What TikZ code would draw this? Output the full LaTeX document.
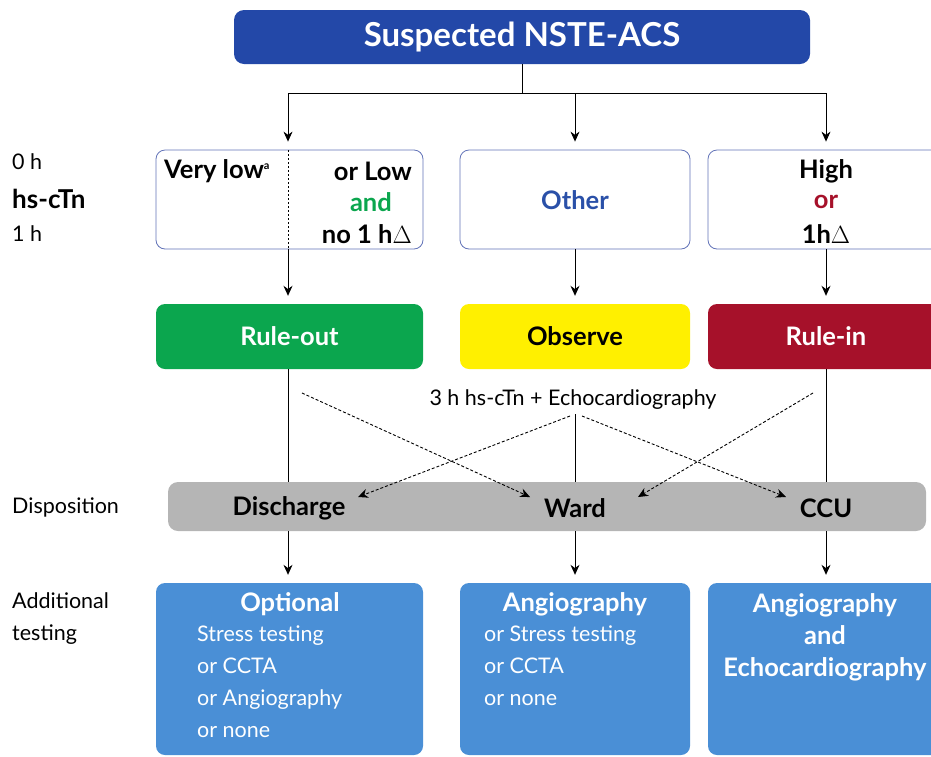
\documentclass[tikz,border=0pt]{standalone}
\usepackage{fontspec}
\setmainfont{Lato}
\usetikzlibrary{arrows.meta}
\definecolor{titleblue}{HTML}{2348A8}
\definecolor{frameblue}{HTML}{6273B8}
\definecolor{otherblue}{HTML}{2A50A8}
\definecolor{rgreen}{HTML}{0BA64E}
\definecolor{ryellow}{HTML}{FFF000}
\definecolor{rred}{HTML}{A6112A}
\definecolor{dgray}{HTML}{B5B5B5}
\definecolor{tblue}{HTML}{4A8FD6}
\begin{document}
\begin{tikzpicture}[x=1pt,y=-1pt,
  titlebox/.style={rectangle,rounded corners=10pt,fill=titleblue,text=white,font=\fontsize{33}{36}\selectfont\bfseries},
  riskbox/.style={rectangle,rounded corners=9pt,draw=frameblue,line width=0.8pt,fill=white,minimum height=99pt},
  colbox/.style={rectangle,rounded corners=9pt,minimum height=65pt,minimum width=267pt,font=\fontsize{25.5}{28}\selectfont\bfseries},
  testbox/.style={rectangle,rounded corners=9pt,fill=tblue,minimum height=172pt},
  btxt/.style={font=\fontsize{25.5}{32}\selectfont\bfseries,inner sep=0pt},
  ntxt/.style={font=\fontsize{21.5}{32}\selectfont,inner sep=0pt},
  ltxt/.style={font=\fontsize{21.5}{32}\selectfont,inner sep=0pt,anchor=west},
  arr/.style={-{Stealth[length=10pt,width=9pt]},line width=0.9pt},
  plain/.style={line width=0.9pt},
  dotarr/.style={-{Stealth[length=10pt,width=9pt]},line width=0.9pt,dash pattern=on 3pt off 2pt}
]
\useasboundingbox (0,0) rectangle (931,756);
\clip (0,0) rectangle (931,756);

% title
\node[titlebox,minimum width=576pt,minimum height=54pt] (title) at (522,37) {Suspected NSTE-ACS};

% risk boxes
\node[riskbox,minimum width=267pt] (risk1) at (289.5,199.5) {};
\node[riskbox,minimum width=230pt] (risk2) at (575,199.5) {};
\node[riskbox,minimum width=236pt] (risk3) at (826,199.5) {};
\coordinate (dtop) at (288,150);
\coordinate (dbot) at (288,249);
\draw[line width=0.9pt,dash pattern=on 2pt off 2pt] (dtop) -- (dbot);

\node[btxt,anchor=west] (vlow) at (164,171) {Very low\textsuperscript{\fontsize{11}{11}\selectfont a}};
\node[btxt,anchor=east] (orlow) at (412,171) {or Low};
\node[btxt,anchor=east,text=rgreen] (and1) at (392,202) {and};
\node[btxt,anchor=east] (no1h) at (412,234) {no 1 h$\Delta$};
\node[btxt,text=otherblue] (other) at (575,200) {Other};
\node[btxt] (high) at (826,171) {High};
\node[btxt,text=rred] (or3) at (826,202) {or};
\node[btxt] (oneh) at (826,234) {1h$\Delta$};

% colored boxes
\node[colbox,fill=rgreen,text=white] (ruleout) at (289.5,336.5) {Rule-out};
\node[colbox,fill=ryellow,text=black,minimum width=230pt] (observe) at (575,336.5) {Observe};
\node[colbox,fill=rred,text=white,minimum width=236pt] (rulein) at (826,336.5) {Rule-in};

% disposition bar
\node[rectangle,rounded corners=10pt,fill=dgray,minimum width=758pt,minimum height=49pt] (disp) at (547,506.5) {};
\node[btxt] (discharge) at (289,508) {Discharge};
\node[btxt] (ward) at (575,508) {Ward};
\node[btxt] (ccu) at (826,508) {CCU};

% test boxes
\node[testbox,minimum width=267pt] (test1) at (289.5,669) {};
\node[testbox,minimum width=230pt] (test2) at (575,669) {};
\node[testbox,minimum width=236pt] (test3) at (826,669) {};

\node[btxt,text=white] (opt) at (290,604) {Optional};
\node[ntxt,text=white,anchor=north west,align=left] (opttxt) at (197,626) {Stress testing\\or CCTA\\or Angiography\\or none};
\node[btxt,text=white] (ang2) at (575,604) {Angiography};
\node[ntxt,text=white,anchor=north west,align=left] (angtxt) at (484,626) {or Stress testing\\or CCTA\\or none};
\node[btxt,text=white,align=center,anchor=north] (ang3) at (825,593) {Angiography\\and\\Echocardiography};

% echo text
\node[ntxt] (echo) at (573,400) {3 h hs-cTn + Echocardiography};

% left labels
\node[ltxt] (l0) at (12,162) {0 h};
\node[ltxt,font=\fontsize{26}{28}\selectfont\bfseries] (lhs) at (12,199) {hs-cTn};
\node[ltxt] (l1) at (12,234) {1 h};
\node[ltxt] (ldisp) at (12,507) {Disposition};
\node[ltxt,anchor=north west,align=left] (ladd) at (12,592) {Additional\\testing};

% connectors from title
\coordinate (j0) at (522,93);
\coordinate (j1) at (288,93);
\coordinate (j2) at (575,93);
\coordinate (j3) at (826,93);
\draw[plain] (title.south -| j0) -- (j0);
\draw[plain] (j1) -- (j3);
\draw[arr,shorten >=8pt] (j1) -- (j1 |- risk1.north);
\draw[arr,shorten >=8pt] (j2) -- (risk2.north);
\draw[arr,shorten >=8pt] (j3) -- (risk3.north);

% risk -> colored
\draw[arr,shorten >=8pt] (dbot) -- (dbot |- ruleout.north);
\draw[arr,shorten >=8pt] (risk2.south) -- (observe.north);
\draw[arr,shorten >=8pt] (risk3.south) -- (rulein.north);

% colored -> disposition
\draw[plain] (ruleout.south -| dbot) -- (dbot |- disp.north);
\draw[plain] (echo.south -| risk2.south) ++(0,4) -- (risk2.south |- disp.north);
\draw[plain] (rulein.south) -- (rulein.south |- disp.north);

% dotted arrows
\coordinate (s1) at (302,393);
\coordinate (e1) at (530,497);
\coordinate (s2) at (813,393);
\coordinate (e2) at (638,497);
\coordinate (s3) at (570,416);
\coordinate (e3) at (358,497);
\coordinate (s4) at (582,416);
\coordinate (e4) at (786,497);
\draw[dotarr] (s1) -- (e1);
\draw[dotarr] (s2) -- (e2);
\draw[dotarr] (s3) -- (e3);
\draw[dotarr] (s4) -- (e4);

% disposition -> tests
\coordinate (k1) at (288,531);
\draw[arr,shorten >=8pt] (k1) -- (k1 |- test1.north);
\draw[arr,shorten >=8pt] (disp.south -| test2.north) -- (test2.north);
\draw[arr,shorten >=8pt] (disp.south -| test3.north) -- (test3.north);
\end{tikzpicture}
\end{document}
